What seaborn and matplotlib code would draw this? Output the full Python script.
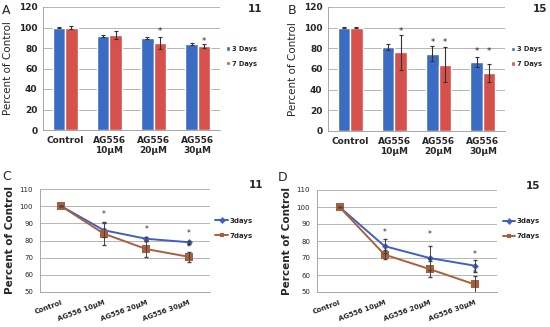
import numpy as np
import pandas as pd
import matplotlib
matplotlib.use('Agg')
import matplotlib.pyplot as plt
import seaborn as sns

# Data
groups_bar = ['Control', 'AG556\n10µM', 'AG556\n20µM', 'AG556\n30µM']
groups_line = ['Control', 'AG556 10µM', 'AG556 20µM', 'AG556 30µM']

a_3d = [100, 92, 90, 84]
a_3d_err = [0.8, 1, 1, 1]
a_7d = [100, 93, 85, 82]
a_7d_err = [1, 4, 6, 2]

b_3d = [100, 81, 75, 67]
b_3d_err = [0.5, 3, 7, 5]
b_7d = [100, 76, 64, 56]
b_7d_err = [0.5, 17, 17, 9]

c_3d = [100, 86, 81, 79]
c_3d_err = [0, 4, 1, 1]
c_7d = [100, 84, 75, 70.5]
c_7d_err = [0, 6.5, 4.5, 3]

d_3d = [100, 77, 70, 65.5]
d_3d_err = [0, 4, 7, 3.5]
d_7d = [100, 72, 63.5, 54.5]
d_7d_err = [0, 2.5, 4.5, 5]

BLUE = '#3b6cc3'
RED = '#d6504c'
LBLUE = '#3f5fc8'
BROWN = '#a8603c'

sns.set_style('white')
plt.rcParams['font.family'] = ['DejaVu Sans']

W, H = 550, 327
fig = plt.figure(figsize=(W / 100, H / 100), dpi=100)


def px_axes(x0, y0, x1, y1):
    return fig.add_axes([x0 / W, 1 - y1 / H, (x1 - x0) / W, (y1 - y0) / H])


def style_axes(ax):
    ax.yaxis.grid(True, color='#aaaaaa', lw=0.6)
    ax.set_axisbelow(True)
    for s in ['top', 'right']:
        ax.spines[s].set_visible(False)
    for s in ['left', 'bottom']:
        ax.spines[s].set_color('#999999')
        ax.spines[s].set_linewidth(0.6)
    ax.set_xlabel('')


def bar_panel(ax, v3, e3, v7, e7, stars, letter, num):
    df = pd.DataFrame({
        'group': groups_bar * 2,
        'value': v3 + v7,
        'series': ['3 Days'] * 4 + ['7 Days'] * 4,
    })
    sns.barplot(data=df, x='group', y='value', hue='series', ax=ax,
                palette=[BLUE, RED], width=0.56, errorbar=None, saturation=1)
    errs = e3 + e7
    vals = v3 + v7
    for p, v, e in zip(ax.patches[:8], vals, errs):
        cx = p.get_x() + p.get_width() / 2
        ax.errorbar(cx, v, yerr=e, color='#333333', lw=0.8, capsize=1.5, capthick=0.8)
    for idx, ypos in stars:
        p = ax.patches[idx]
        ax.text(p.get_x() + p.get_width() / 2, ypos, '*', ha='center', va='center', fontsize=6)
    ax.set_ylim(0, 120)
    ax.set_xlim(-0.5, 3.5)
    ax.set_yticks(range(0, 121, 20))
    style_axes(ax)
    ax.tick_params(axis='both', length=0, labelsize=6.5, pad=4)
    for t in ax.get_xticklabels() + ax.get_yticklabels():
        t.set_fontweight('bold')
    ax.set_ylabel('Percent of Control', fontsize=7.5)
    leg = ax.legend(loc='center left', bbox_to_anchor=(1.02, 0.6), frameon=False,
                    fontsize=4.8, handlelength=0.6, handleheight=0.6, handletextpad=0.3,
                    labelspacing=1.3, borderpad=0, borderaxespad=0.3)
    for t in leg.get_texts():
        t.set_fontweight('bold')
    ax.text(-0.23, 0.97, letter, transform=ax.transAxes, fontsize=9, va='center')
    ax.text(1.2, 0.98, num, transform=ax.transAxes, fontsize=7.5, fontweight='bold',
            va='center', ha='center')


def line_panel(ax, v3, e3, v7, e7, stars, letter, num, num_x):
    df = pd.DataFrame({
        'x': list(range(4)) * 2,
        'value': v3 + v7,
        'series': ['3days'] * 4 + ['7days'] * 4,
    })
    sns.lineplot(data=df, x='x', y='value', hue='series', style='series',
                 markers={'3days': 'D', '7days': 's'}, dashes=False,
                 palette=[LBLUE, BROWN], ax=ax, lw=1.4, markersize=3.5,
                 markeredgewidth=0)
    ax.lines[1].set_markersize(5.5)
    ax.errorbar(range(4), v3, yerr=e3, fmt='none', ecolor='#444444', lw=0.7, capsize=1.5)
    ax.errorbar(range(4), v7, yerr=e7, fmt='none', ecolor='#444444', lw=0.7, capsize=1.5)
    for xi, ypos in stars:
        ax.text(xi, ypos, '*', ha='center', va='center', fontsize=5.5)
    ax.set_ylim(50, 110)
    ax.set_xlim(-0.5, 3.5)
    ax.set_yticks(range(50, 111, 10))
    ax.set_xticks(range(4))
    ax.set_xticklabels(groups_line, rotation=20, ha='right', rotation_mode='anchor',
                       fontsize=5, fontweight='bold')
    ax.set_xticks(np.arange(-0.5, 4, 1), minor=True)
    ax.tick_params(axis='x', which='major', length=0, pad=5)
    ax.tick_params(axis='x', which='minor', length=2, color='#999999')
    ax.tick_params(axis='y', length=0, labelsize=5, pad=5)
    style_axes(ax)
    ax.set_ylabel('Percent of Control', fontsize=7.5, fontweight='bold', labelpad=3)
    leg = ax.legend(loc='center left', bbox_to_anchor=(1.02, 0.62), frameon=False,
                    fontsize=5, handlelength=1.8, handletextpad=0.2, labelspacing=1.3,
                    borderpad=0, borderaxespad=0.3)
    for t in leg.get_texts():
        t.set_fontweight('bold')
    ax.text(-0.22, 1.12, letter, transform=ax.transAxes, fontsize=9, va='center')
    ax.text(num_x, 1.04, num, transform=ax.transAxes, fontsize=7.5, fontweight='bold',
            va='center', ha='center')


ax_a = px_axes(43, 7, 220, 130)
bar_panel(ax_a, a_3d, a_3d_err, a_7d, a_7d_err,
          [(6, 96), (7, 86)], 'A', '11')

ax_b = px_axes(328, 7, 505, 131)
bar_panel(ax_b, b_3d, b_3d_err, b_7d, b_7d_err,
          [(5, 96), (2, 86), (6, 86), (3, 77), (7, 77)], 'B', '15')

ax_c = px_axes(40, 189, 210, 292)
line_panel(ax_c, c_3d, c_3d_err, c_7d, c_7d_err,
           [(1, 95), (2, 86.5), (3, 84), (3, 76)], 'C', '11', 1.27)

ax_d = px_axes(317, 190, 497, 292)
line_panel(ax_d, d_3d, d_3d_err, d_7d, d_7d_err,
           [(1, 85), (2, 84), (2, 68), (3, 72), (3, 61)], 'D', '15', 1.2)

fig.savefig('out.png', dpi=100)
